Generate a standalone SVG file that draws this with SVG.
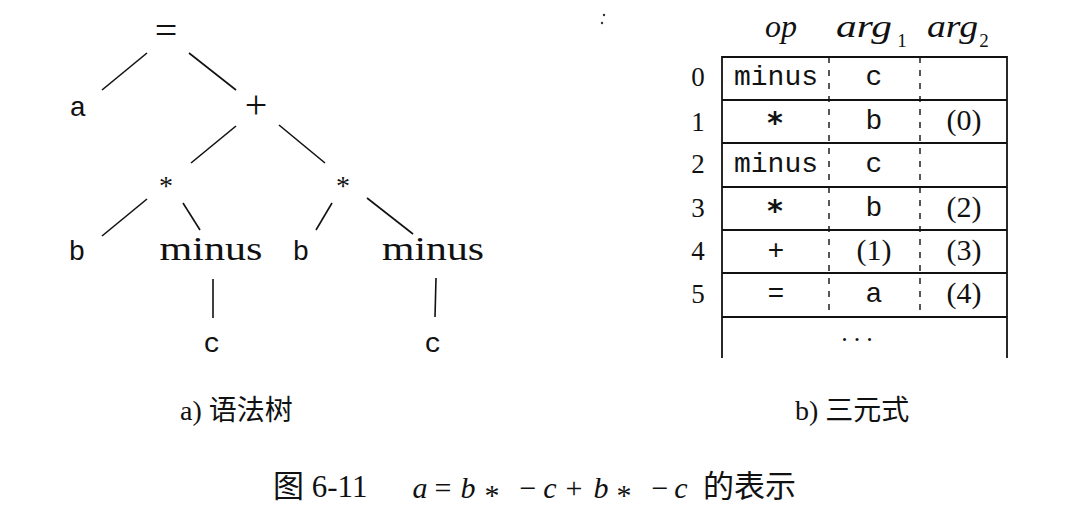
<svg xmlns="http://www.w3.org/2000/svg" width="1068" height="516" viewBox="0 0 1068 516">
<style>
.mono{font-family:"Liberation Mono","DejaVu Sans Mono",monospace;font-size:28px;fill:#111;text-anchor:middle}
.star{font-family:"DejaVu Sans Mono","Liberation Mono",monospace;font-size:30px;font-weight:bold;fill:#111;text-anchor:middle}
.ser{font-family:"Liberation Serif","DejaVu Serif",serif;fill:#111;text-anchor:middle}
.it{font-family:"Liberation Serif","DejaVu Serif",serif;font-style:italic;fill:#111}
.cjk{font-family:"Liberation Serif","Noto Sans CJK SC",serif;fill:#111}
.edge{stroke:#111;stroke-width:1.6;fill:none}
.tl{stroke:#111;stroke-width:1.8;fill:none}
.dash{stroke:#111;stroke-width:1.4;stroke-dasharray:6 7;fill:none}
</style>
<rect width="1068" height="516" fill="#fff"/>
<g id="connectors">
<line class="edge" x1="147" y1="53" x2="102" y2="90"/>
<line class="edge" x1="189" y1="53" x2="236" y2="90"/>
<line class="edge" x1="236" y1="126" x2="191" y2="163"/>
<line class="edge" x1="279" y1="125" x2="325" y2="163"/>
<line class="edge" x1="147" y1="199" x2="102" y2="236"/>
<line class="edge" x1="183" y1="203" x2="200" y2="230"/>
<line class="edge" x1="332" y1="203" x2="316" y2="230"/>
<line class="edge" x1="367" y1="198" x2="413" y2="234"/>
<line class="edge" x1="213" y1="279" x2="213" y2="318"/>
<line class="edge" x1="436" y1="278" x2="435" y2="317"/>
</g>
<g id="n-eq"><text class="ser" x="166" y="44" font-size="40">=</text></g>
<g id="n-a"><text class="mono" x="78" y="116">a</text></g>
<g id="n-plus"><text class="ser" x="256" y="118" font-size="40">+</text></g>
<g id="n-mul1"><text class="ser" x="166" y="195" font-size="28">*</text></g>
<g id="n-mul2"><text class="ser" x="343" y="195" font-size="28">*</text></g>
<g id="n-b1"><text class="mono" x="77" y="260">b</text></g>
<g id="n-minus1"><text class="ser" x="211" y="260" font-size="33" textLength="103" lengthAdjust="spacingAndGlyphs">minus</text></g>
<g id="n-b2"><text class="mono" x="301" y="260">b</text></g>
<g id="n-minus2"><text class="ser" x="433" y="260" font-size="33" textLength="102" lengthAdjust="spacingAndGlyphs">minus</text></g>
<g id="n-c1"><text class="mono" x="212" y="352">c</text></g>
<g id="n-c2"><text class="mono" x="433" y="352">c</text></g>

<g id="table">
<text class="it" x="765" y="37" font-size="32" textLength="32" lengthAdjust="spacing">op</text>
<text class="it" x="836" y="37" font-size="32" textLength="56" lengthAdjust="spacingAndGlyphs">arg</text>
<text class="ser" x="902" y="47" font-size="19">1</text>
<text class="it" x="927" y="37" font-size="32" textLength="51" lengthAdjust="spacingAndGlyphs">arg</text>
<text class="ser" x="984" y="47" font-size="19">2</text>
<line class="tl" x1="722" y1="57" x2="1007" y2="57"/>
<line class="tl" x1="722" y1="100" x2="1007" y2="100"/>
<line class="tl" x1="722" y1="143" x2="1007" y2="143"/>
<line class="tl" x1="722" y1="187" x2="1007" y2="187"/>
<line class="tl" x1="722" y1="230" x2="1007" y2="230"/>
<line class="tl" x1="722" y1="273" x2="1007" y2="273"/>
<line class="tl" x1="722" y1="317" x2="1007" y2="317"/>
<line class="tl" x1="722" y1="56" x2="722" y2="358"/>
<line class="tl" x1="1007" y1="56" x2="1007" y2="358"/>
<line class="dash" x1="829" y1="57" x2="829" y2="317"/>
<line class="dash" x1="920" y1="57" x2="920" y2="317"/>
<g class="ser" font-size="27">
<text x="698" y="86">0</text>
<text x="698" y="131">1</text>
<text x="698" y="173">2</text>
<text x="698" y="217">3</text>
<text x="698" y="260">4</text>
<text x="698" y="303">5</text>
</g>
<text class="mono" x="776" y="85">minus</text>
<text class="mono" x="874" y="85">c</text>
<text class="star" x="775" y="133">*</text>
<text class="mono" x="874" y="129">b</text>
<text class="ser" x="964" y="130" font-size="30">(0)</text>
<text class="mono" x="776" y="172">minus</text>
<text class="mono" x="874" y="172">c</text>
<text class="star" x="775" y="221">*</text>
<text class="mono" x="874" y="216">b</text>
<text class="ser" x="964" y="217" font-size="30">(2)</text>
<text class="mono" x="776" y="259">+</text>
<text class="ser" x="874" y="260" font-size="30">(1)</text>
<text class="ser" x="964" y="260" font-size="30">(3)</text>
<text class="mono" x="776" y="302">=</text>
<text class="mono" x="874" y="302">a</text>
<text class="ser" x="964" y="303" font-size="30">(4)</text>
<text class="ser" x="860" y="341" font-size="26" letter-spacing="6">...</text>
</g>
<circle cx="604" cy="15" r="1.2" fill="#333"/>
<circle cx="602" cy="23" r="1.2" fill="#333"/>

<g id="captions">
<text class="cjk" x="180" y="420" font-size="28">a) 语法树</text>
<text class="cjk" x="795" y="420" font-size="28">b) 三元式</text>
<text class="cjk" x="273" y="497" font-size="31">图 6-11</text>
<g class="it" font-size="30" text-anchor="middle">
<text x="420" y="498">a</text>
<text x="468" y="498">b</text>
<text x="550" y="498">c</text>
<text x="601" y="498">b</text>
<text x="681" y="498">c</text>
</g>
<g class="ser" font-size="30">
<text x="443" y="498">=</text>
<text x="492" y="505">*</text>
<text x="528" y="498">−</text>
<text x="574" y="498">+</text>
<text x="624" y="505">*</text>
<text x="660" y="498">−</text>
</g>
<text class="cjk" x="703" y="497" font-size="31">的表示</text>
</g>
</svg>
